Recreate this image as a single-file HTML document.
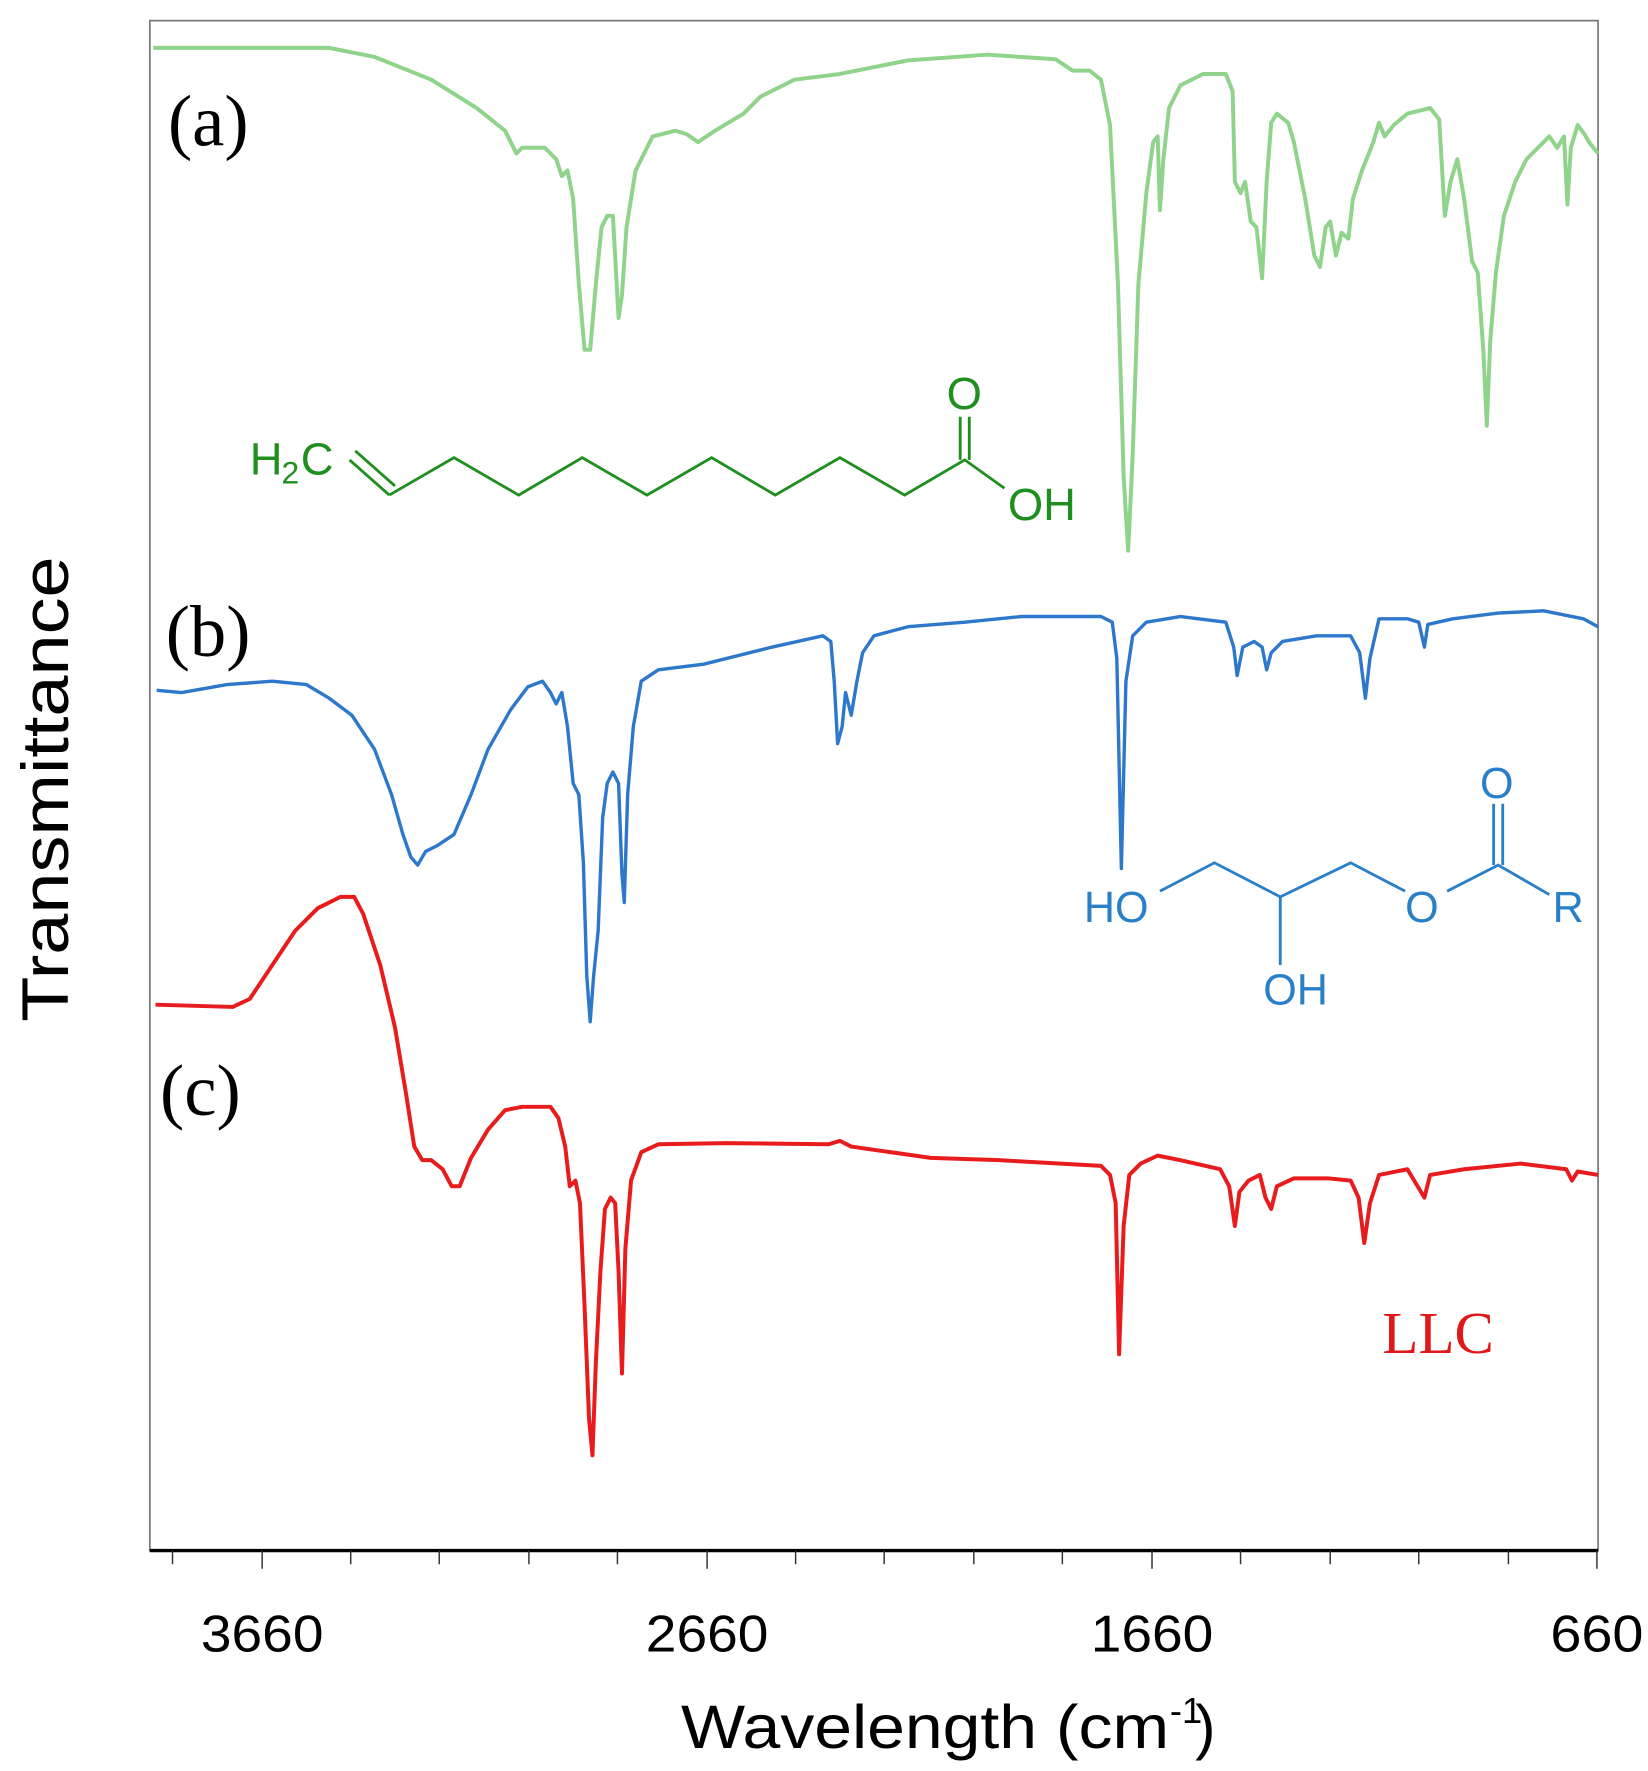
<!DOCTYPE html>
<html><head><meta charset="utf-8"><style>html,body{margin:0;padding:0;background:#fff}svg{display:block}</style></head>
<body>
<svg width="1648" height="1771" viewBox="0 0 1452 1560" xmlns="http://www.w3.org/2000/svg">
<rect x="0" y="0" width="1452" height="1560" fill="#fff"/>
<rect x="132" y="18" width="1276" height="1348" fill="none" stroke="#777" stroke-width="1.5"/>
<line x1="132" y1="1366" x2="1408" y2="1366" stroke="#000" stroke-width="3"/>
<g stroke="#333" stroke-width="1.3">
<line x1="152" y1="1366" x2="152" y2="1378"/><line x1="231" y1="1366" x2="231" y2="1382"/>
<line x1="309" y1="1366" x2="309" y2="1378"/><line x1="387" y1="1366" x2="387" y2="1378"/>
<line x1="466" y1="1366" x2="466" y2="1378"/><line x1="544" y1="1366" x2="544" y2="1378"/>
<line x1="623" y1="1366" x2="623" y2="1382"/><line x1="701" y1="1366" x2="701" y2="1378"/>
<line x1="779" y1="1366" x2="779" y2="1378"/><line x1="858" y1="1366" x2="858" y2="1378"/>
<line x1="936" y1="1366" x2="936" y2="1378"/><line x1="1015" y1="1366" x2="1015" y2="1382"/>
<line x1="1093" y1="1366" x2="1093" y2="1378"/><line x1="1172" y1="1366" x2="1172" y2="1378"/>
<line x1="1250" y1="1366" x2="1250" y2="1378"/><line x1="1329" y1="1366" x2="1329" y2="1378"/>
<line x1="1407" y1="1366" x2="1407" y2="1382"/>
</g>
<g font-family="Liberation Sans, sans-serif" font-size="46" fill="#000" text-anchor="middle">
<text x="231" y="1455" textLength="108" lengthAdjust="spacingAndGlyphs">3660</text>
<text x="623" y="1455" textLength="108" lengthAdjust="spacingAndGlyphs">2660</text>
<text x="1015" y="1455" textLength="108" lengthAdjust="spacingAndGlyphs">1660</text>
<text x="1407" y="1455" textLength="82" lengthAdjust="spacingAndGlyphs">660</text>
<text x="815" y="1540" font-size="54" textLength="430" lengthAdjust="spacingAndGlyphs">Wavelength (cm</text>
<text x="1045" y="1518" font-size="32">-1</text>
<text x="1062" y="1540" font-size="54">)</text>
<text transform="translate(60,695) rotate(-90)" font-size="58" textLength="410" lengthAdjust="spacingAndGlyphs">Transmittance</text>
</g>
<g font-family="Liberation Serif, serif" font-size="64" fill="#000">
<text x="148" y="128">(a)</text>
<text x="146" y="578">(b)</text>
<text x="141" y="982">(c)</text>
</g>
<text x="1218" y="1192" font-family="Liberation Serif, serif" font-size="52" fill="#e01818">LLC</text>
<g fill="none" stroke-width="3.5" stroke-linejoin="round">
<polyline stroke="#90d48c" points="135,42 290,42 330,50 380,70 420,95 445,115 455,135 460,130 480,130 490,140 495,155 500,150 505,175 510,250 515,308 520,308 525,250 530,200 535,190 540,190 545,280 548,260 552,200 560,150 575,120 595,115 605,118 615,125 630,115 655,100 670,85 700,70 740,65 800,53 870,48 930,52 945,62 960,62 970,70 978,110 985,250 990,420 994,485 998,400 1003,250 1010,170 1016,125 1020,120 1022,185 1025,140 1030,95 1040,75 1060,65 1080,65 1086,80 1088,160 1093,170 1097,160 1102,195 1107,200 1112,245 1116,160 1120,108 1125,100 1135,108 1140,125 1150,175 1158,225 1163,235 1168,200 1172,195 1177,225 1182,205 1188,210 1192,175 1200,150 1210,125 1215,108 1220,120 1228,110 1240,100 1260,95 1268,105 1273,190 1278,160 1284,140 1290,175 1297,230 1302,240 1307,310 1310,375 1313,300 1318,240 1325,190 1335,160 1345,140 1355,130 1365,120 1372,130 1378,120 1381,180 1384,130 1390,110 1396,118 1400,125 1408,135"/>
<polyline stroke="#2e78cc" stroke-width="3" points="138,608 160,610 200,603 240,600 270,603 290,615 310,630 330,660 345,700 355,735 362,755 368,762 375,750 385,745 400,735 415,700 430,660 450,625 465,605 478,600 485,610 490,620 495,610 500,640 505,690 510,700 514,760 517,860 520,900 523,860 527,820 531,720 535,690 540,680 545,690 548,770 550,795 553,700 558,640 565,600 580,590 620,585 680,570 725,560 732,565 735,600 738,655 742,640 745,610 750,630 755,600 760,575 770,560 800,552 850,548 900,543 970,543 980,548 984,580 988,765 992,600 998,560 1010,548 1040,543 1080,548 1087,570 1090,595 1095,570 1105,565 1112,570 1116,590 1120,575 1130,565 1160,560 1190,560 1198,575 1203,615 1207,580 1215,545 1240,545 1250,548 1255,570 1258,550 1280,545 1320,540 1360,538 1395,545 1408,552"/>
<polyline stroke="#e81c1c" points="137,885 205,887 220,880 240,850 260,820 280,800 300,790 312,790 320,805 335,850 348,905 358,965 365,1010 372,1022 380,1022 390,1030 398,1045 405,1045 415,1020 430,995 445,978 460,975 485,975 492,985 498,1010 502,1045 507,1040 511,1060 515,1150 519,1250 522,1282 525,1200 529,1120 533,1065 538,1055 542,1060 545,1120 548,1210 551,1100 556,1040 565,1015 580,1008 640,1007 730,1008 740,1005 750,1010 820,1020 880,1022 970,1027 978,1035 983,1060 986,1193 990,1080 995,1035 1005,1025 1020,1018 1040,1022 1075,1030 1083,1045 1088,1080 1092,1050 1100,1040 1110,1035 1115,1055 1120,1065 1125,1045 1140,1038 1170,1038 1190,1040 1197,1055 1202,1095 1207,1060 1215,1035 1240,1030 1255,1055 1260,1035 1290,1030 1340,1025 1380,1030 1385,1040 1390,1032 1408,1035"/>
</g>
<g stroke="#1f8f1f" stroke-width="2.5" fill="none">
<polyline points="343,436 400,403 457,436 513,403 570,436 627,403 683,436 740,403 797,436 850,405 885,430"/>
<line x1="308" y1="405" x2="343" y2="436"/><line x1="313" y1="397" x2="348" y2="428"/>
<line x1="846" y1="405" x2="846" y2="367"/><line x1="854" y1="405" x2="854" y2="367"/>
</g>
<g font-family="Liberation Sans, sans-serif" font-size="40" fill="#1f8f1f">
<text x="220" y="418">H</text><text x="248" y="426" font-size="28">2</text><text x="265" y="418">C</text>
<text x="834" y="360">O</text>
<text x="888" y="458">OH</text>
</g>
<g stroke="#2a80c8" stroke-width="2.5" fill="none">
<polyline points="1022,785 1070,760 1128,790 1190,760 1238,785"/>
<line x1="1128" y1="790" x2="1128" y2="850"/>
<polyline points="1275,785 1320,762 1365,788"/>
<line x1="1316" y1="762" x2="1316" y2="708"/><line x1="1324" y1="762" x2="1324" y2="708"/>
</g>
<g font-family="Liberation Sans, sans-serif" font-size="38" fill="#2a80c8">
<text x="955" y="812">HO</text>
<text x="1238" y="812">O</text>
<text x="1113" y="885">OH</text>
<text x="1304" y="703">O</text>
<text x="1368" y="812">R</text>
</g>
</svg>
</body></html>
